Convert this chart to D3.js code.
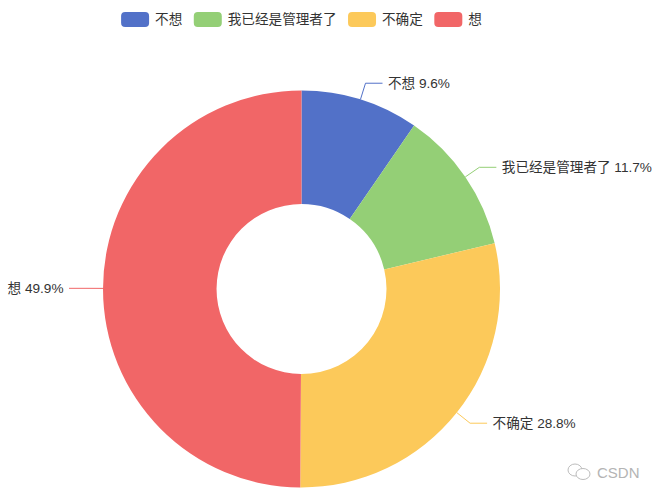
<!DOCTYPE html>
<html>
<head>
	<meta charset="utf-8">
	<title>Donut</title>
	<script type="text/javascript" src="https://cdn.jsdelivr.net/npm/d3@7"></script>
	<style type="text/css">
		html, body {
			margin: 0;
			padding: 0;
			background: #fff;
		}
		svg {
			display: block;
		}
		text {
			font-family: "Liberation Sans", "Noto Sans CJK SC", sans-serif;
			font-size: 13.6px;
			fill: #333;
		}
	</style>
</head>
<body>
	<div id="chart"></div>
	<script type="text/javascript">
		const categories = ["不想", "我已经是管理者了", "不确定", "想"];
		const shares = [9.6, 11.7, 28.8, 49.9];
		const colours = ["#5271c8", "#94cf76", "#fcc95a", "#f16667"];

		const width = 660;
		const height = 499;
		const cx = 301.5;
		const cy = 289;
		const outer = 198.5;
		const inner = 85;

		const color = d3.scaleOrdinal().domain(categories).range(colours);

		const svg = d3.select("#chart").append("svg")
			.attr("width", width)
			.attr("height", height);

		const pie = d3.pie()
			.sort(null)
			.value(function (d) { return d.share; });

		const slices = pie(categories.map(function (c, i) {
			return {name: c, share: shares[i]};
		}));

		const arc = d3.arc().innerRadius(inner).outerRadius(outer);

		const g = svg.append("g").attr("transform", `translate(${cx},${cy})`);

		g.selectAll("path.slice")
			.data(slices)
			.join("path")
			.attr("class", "slice")
			.attr("d", arc)
			.attr("fill", function (d) { return color(d.data.name); });

		// leader lines: radial part, then a short horizontal part
		const leader = function (d) {
			const a = (d.startAngle + d.endAngle) / 2;
			const p = function (r) { return [Math.sin(a) * r, -Math.cos(a) * r]; };
			const knee = p(outer + 17);
			const side = Math.sin(a) >= 0 ? 1 : -1;
			return {start: p(outer), knee: knee, end: [knee[0] + side * 17, knee[1]], side: side};
		};

		g.selectAll("path.leader")
			.data(slices)
			.join("path")
			.attr("class", "leader")
			.attr("fill", "none")
			.attr("stroke", function (d) { return color(d.data.name); })
			.attr("stroke-width", 1)
			.attr("d", function (d) {
				const l = leader(d);
				return d3.line()([l.start, l.knee, l.end]);
			});

		g.selectAll("text.label")
			.data(slices)
			.join("text")
			.attr("class", "label")
			.attr("x", function (d) { const l = leader(d); return l.end[0] + l.side * 5.5; })
			.attr("y", function (d) { return leader(d).end[1]; })
			.attr("dy", "0.35em")
			.attr("text-anchor", function (d) { return leader(d).side > 0 ? "start" : "end"; })
			.text(function (d) { return `${d.data.name} ${d.data.share}%`; });

		// legend, centred over the donut
		const legend = svg.append("g").attr("class", "legend");
		let x = 0;
		categories.forEach(function (c) {
			const item = legend.append("g").attr("transform", `translate(${x},0)`);
			item.append("rect")
				.attr("width", 28)
				.attr("height", 15)
				.attr("y", 12)
				.attr("rx", 4)
				.attr("fill", color(c));
			const t = item.append("text")
				.attr("x", 34)
				.attr("y", 19)
				.attr("dy", "0.35em")
				.text(c);
			x += 34 + t.node().getComputedTextLength() + 11.5;
		});
		legend.attr("transform", `translate(${cx - (x - 11.5) / 2},0)`);

		// watermark bottom right
		const mark = svg.append("g").attr("class", "watermark");
		mark.append("ellipse")
			.attr("cx", 575).attr("cy", 470).attr("rx", 7).attr("ry", 6)
			.attr("fill", "#fff").attr("stroke", "#bdbdbd");
		mark.append("ellipse")
			.attr("cx", 583).attr("cy", 474).attr("rx", 7).attr("ry", 5.5)
			.attr("fill", "#fff").attr("stroke", "#bdbdbd");
		mark.append("text")
			.attr("x", 597)
			.attr("y", 477.5)
			.style("font-size", "15px")
			.style("fill", "#b4b4b4")
			.text("CSDN");
	</script>
</body>
</html>
